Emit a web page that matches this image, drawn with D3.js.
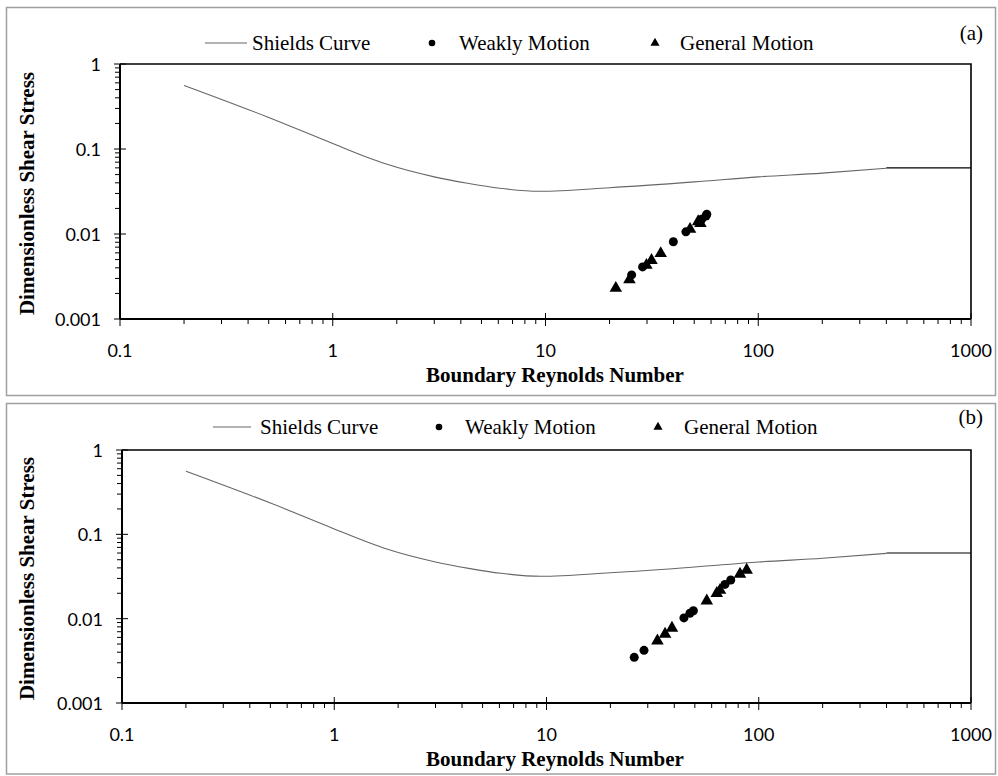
<!DOCTYPE html>
<html lang="en">
<head>
    <meta charset="UTF-8">
    <title>Shields Diagram</title>
    <script src="https://d3js.org/d3.v7.min.js"></script>
    <style>
        body { margin: 0; background: white; }
        .tick-label { font-family: Lato, "Liberation Sans", sans-serif; font-size: 18px; fill: black; }
        .axis-title { font-family: "Liberation Serif", "Times New Roman", serif; font-size: 21px; font-weight: bold; fill: black; }
        .legend-text { font-family: "Liberation Serif", "Times New Roman", serif; font-size: 21px; fill: black; }
    </style>
</head>
<body>
<svg width="998" height="776"></svg>
<script>
    // Shields curve
    const shieldsRe  = [0.2, 0.5, 1, 1.45, 1.8, 3, 4.3, 6.1, 9.4, 20, 50, 100, 200, 400];
    const shieldsTau = [0.56, 0.235, 0.116, 0.080, 0.066, 0.047, 0.0395, 0.0345, 0.0318, 0.035, 0.041, 0.047, 0.052, 0.0594];
    const flatRe  = [400, 1000];
    const flatTau = [0.060, 0.060];

    // panel (a)
    const aWeakRe  = [25.4, 28.6, 39.9, 45.7, 54.2, 56.8, 57.3];
    const aWeakTau = [0.0033, 0.0041, 0.0081, 0.0106, 0.0149, 0.0163, 0.0171];
    const aGenRe   = [21.4, 24.8, 29.8, 31.5, 34.8, 47.8, 52.2, 53.5];
    const aGenTau  = [0.0023, 0.0029, 0.0043, 0.0049, 0.0059, 0.0114, 0.0140, 0.0133];

    // panel (b)
    const bWeakRe  = [25.9, 28.8, 44.4, 47.4, 49.2, 69.3, 73.8];
    const bWeakTau = [0.00348, 0.00421, 0.0102, 0.0116, 0.0124, 0.0255, 0.0287];
    const bGenRe   = [33.3, 36.2, 39.0, 56.9, 63.4, 65.7, 81.6, 87.7];
    const bGenTau  = [0.00547, 0.00656, 0.00774, 0.0163, 0.0200, 0.0218, 0.0338, 0.0377];

    const xTicks = [0.1, 1, 10, 100, 1000];
    const xTickLabels = ["0.1", "1", "10", "100", "1000"];
    const yTicks = [0.001, 0.01, 0.1, 1];
    const yTickLabels = ["0.001", "0.01", "0.1", "1"];
    const legendLabels = ["Shields Curve", "Weakly Motion", "General Motion"];

    const svg = d3.select("svg");

    function drawPanel(p) {
        // outer gray frame
        svg.append("rect")
            .attr("x", 6.5).attr("y", p.boxTop)
            .attr("width", 989).attr("height", p.boxBottom - p.boxTop)
            .attr("fill", "none").attr("stroke", "#a0a0a0").attr("stroke-width", 1.5);

        const x = d3.scaleLog().domain([0.1, 1000]).range([p.left, p.right]);
        const y = d3.scaleLog().domain([0.001, 1]).range([p.bottom, p.top]);

        const g = svg.append("g");

        // plot frame (top + right)
        g.append("path")
            .attr("d", `M${p.left},${p.top}H${p.right}V${p.bottom}`)
            .attr("fill", "none").attr("stroke", "black").attr("stroke-width", 1.6);

        // minor ticks
        const minorX = [];
        for (let e = -1; e < 3; e++) for (let k = 2; k <= 9; k++) minorX.push(k * Math.pow(10, e));
        const minorY = [];
        for (let e = -3; e < 0; e++) for (let k = 2; k <= 9; k++) minorY.push(k * Math.pow(10, e));

        g.selectAll("line.mx").data(minorX).enter().append("line")
            .attr("x1", d => x(d)).attr("x2", d => x(d))
            .attr("y1", p.bottom).attr("y2", p.bottom + 5)
            .attr("stroke", "black").attr("stroke-width", 1);
        g.selectAll("line.my").data(minorY).enter().append("line")
            .attr("y1", d => y(d)).attr("y2", d => y(d))
            .attr("x1", p.left - 5).attr("x2", p.left)
            .attr("stroke", "black").attr("stroke-width", 1);

        // major ticks crossing axes
        g.selectAll("line.Mx").data(xTicks).enter().append("line")
            .attr("x1", d => x(d)).attr("x2", d => x(d))
            .attr("y1", p.bottom - 6).attr("y2", p.bottom + 7)
            .attr("stroke", "black").attr("stroke-width", 1);
        g.selectAll("line.My").data(yTicks).enter().append("line")
            .attr("y1", d => y(d)).attr("y2", d => y(d))
            .attr("x1", p.left - 6).attr("x2", p.left + 6)
            .attr("stroke", "black").attr("stroke-width", 1);

        // axis lines
        g.append("line").attr("x1", p.left).attr("x2", p.right)
            .attr("y1", p.bottom).attr("y2", p.bottom)
            .attr("stroke", "black").attr("stroke-width", 2);
        g.append("line").attr("x1", p.left).attr("x2", p.left)
            .attr("y1", p.top).attr("y2", p.bottom)
            .attr("stroke", "black").attr("stroke-width", 2);

        // tick labels
        g.selectAll("text.xl").data(xTicks).enter().append("text")
            .attr("class", "tick-label")
            .attr("x", d => x(d)).attr("y", p.bottom + 38)
            .attr("text-anchor", "middle")
            .text((d, i) => xTickLabels[i]);
        g.selectAll("text.yl").data(yTicks).enter().append("text")
            .attr("class", "tick-label")
            .attr("x", p.left - 19).attr("y", d => y(d) + 7)
            .attr("text-anchor", "end")
            .text((d, i) => yTickLabels[i]);

        // axis titles
        g.append("text").attr("class", "axis-title")
            .attr("x", 555).attr("y", p.bottom + 63)
            .attr("text-anchor", "middle")
            .text("Boundary Reynolds Number");
        g.append("text").attr("class", "axis-title")
            .attr("transform", `translate(34, ${(p.top + p.bottom) / 2 + 2}) rotate(-90)`)
            .attr("text-anchor", "middle")
            .text("Dimensionless Shear Stress");

        // shields curve
        const line = d3.line().x(d => x(d[0])).y(d => y(d[1]));
        g.append("path")
            .datum(shieldsRe.map((r, i) => [r, shieldsTau[i]]))
            .attr("d", line.curve(d3.curveMonotoneX))
            .attr("fill", "none").attr("stroke", "#666").attr("stroke-width", 1.1);
        g.append("path")
            .datum(flatRe.map((r, i) => [r, flatTau[i]]))
            .attr("d", d3.line().x(d => x(d[0])).y(d => y(d[1])))
            .attr("fill", "none").attr("stroke", "black").attr("stroke-width", 1.1);

        // data points
        const tri = d3.symbol().type(d3.symbolTriangle).size(68);
        g.selectAll("path.gen").data(p.genRe.map((r, i) => [r, p.genTau[i]])).enter().append("path")
            .attr("transform", d => `translate(${x(d[0])},${y(d[1])})`)
            .attr("d", tri).attr("fill", "black");
        g.selectAll("circle.weak").data(p.weakRe.map((r, i) => [r, p.weakTau[i]])).enter().append("circle")
            .attr("cx", d => x(d[0])).attr("cy", d => y(d[1]))
            .attr("r", 4.5).attr("fill", "black");

        // legend
        const lg = svg.append("g");
        lg.append("line").attr("x1", p.legLine[0]).attr("x2", p.legLine[1])
            .attr("y1", p.legY).attr("y2", p.legY)
            .attr("stroke", "#666").attr("stroke-width", 1.2);
        lg.append("circle").attr("cx", p.legCircle).attr("cy", p.legY).attr("r", 3.3).attr("fill", "black");
        lg.append("path").attr("transform", `translate(${p.legTri},${p.legY})`)
            .attr("d", d3.symbol().type(d3.symbolTriangle).size(36)).attr("fill", "black");
        lg.selectAll("text.lt").data(legendLabels).enter().append("text")
            .attr("class", "legend-text")
            .attr("x", (d, i) => p.legText[i]).attr("y", p.legY + 7)
            .text(d => d);
        lg.append("text").attr("class", "legend-text")
            .attr("x", 983).attr("y", p.legY - 3)
            .attr("text-anchor", "end")
            .text(p.tag);
    }

    drawPanel({
        boxTop: 7.5, boxBottom: 395.5,
        left: 120, right: 971, top: 64, bottom: 319,
        weakRe: aWeakRe, weakTau: aWeakTau, genRe: aGenRe, genTau: aGenTau,
        legY: 43, legLine: [205, 247], legCircle: 432, legTri: 655, legText: [252, 459, 680], tag: "(a)"
    });
    drawPanel({
        boxTop: 403.5, boxBottom: 774,
        left: 122, right: 971, top: 450, bottom: 703,
        weakRe: bWeakRe, weakTau: bWeakTau, genRe: bGenRe, genTau: bGenTau,
        legY: 427, legLine: [213, 251], legCircle: 439, legTri: 658, legText: [260, 465, 684], tag: "(b)"
    });
</script>
</body>
</html>
